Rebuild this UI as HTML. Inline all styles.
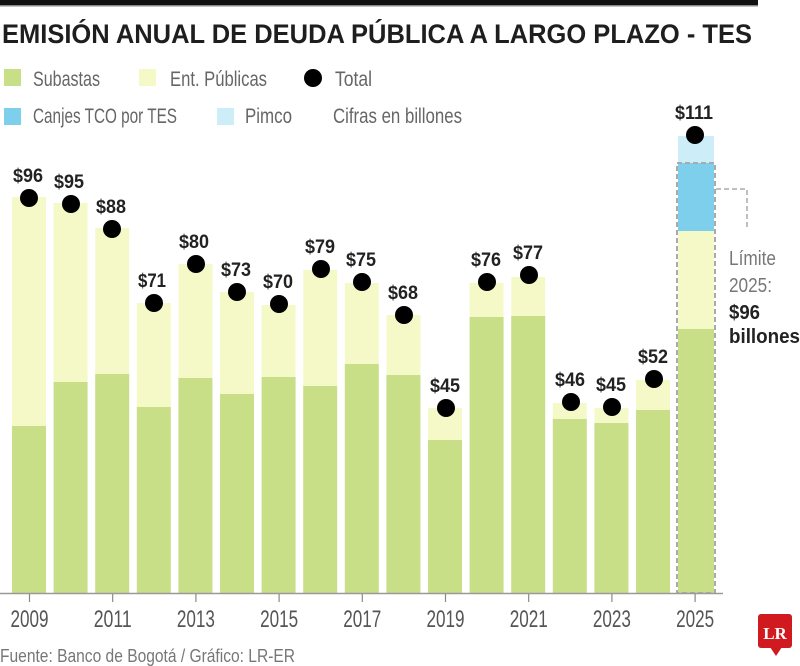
<!DOCTYPE html>
<html><head><meta charset="utf-8"><style>
html,body{margin:0;padding:0;background:#fff;width:800px;height:666px;overflow:hidden}
svg{display:block}
text{font-family:"Liberation Sans Narrow","Liberation Sans",sans-serif}
</style></head><body>
<svg width="800" height="666" viewBox="0 0 800 666" xmlns="http://www.w3.org/2000/svg">
<rect x="0" y="0" width="758" height="5" fill="#111"/>
<rect x="0" y="5" width="758" height="1.5" fill="#888"/>
<text x="2" y="43" font-size="27" font-weight="bold" fill="#1e1e1e" textLength="750" lengthAdjust="spacingAndGlyphs">EMISIÓN ANUAL DE DEUDA PÚBLICA A LARGO PLAZO - TES</text>

<!-- legend -->
<rect x="4" y="69" width="17" height="17" fill="#c9df87"/>
<text x="33" y="86" font-size="21" fill="#666" textLength="67" lengthAdjust="spacingAndGlyphs">Subastas</text>
<rect x="139" y="69" width="17" height="17" fill="#f5f9c8"/>
<text x="170" y="86" font-size="21" fill="#666" textLength="97" lengthAdjust="spacingAndGlyphs">Ent. Públicas</text>
<circle cx="313" cy="78" r="9" fill="#000"/>
<text x="335" y="86" font-size="21" fill="#666" textLength="37" lengthAdjust="spacingAndGlyphs">Total</text>
<rect x="4" y="108" width="17" height="17" fill="#7dcfec"/>
<text x="33" y="123" font-size="21" fill="#666" textLength="144" lengthAdjust="spacingAndGlyphs">Canjes TCO por TES</text>
<rect x="217" y="108" width="17" height="17" fill="#cdeef9"/>
<text x="245" y="123" font-size="21" fill="#666" textLength="47" lengthAdjust="spacingAndGlyphs">Pimco</text>
<text x="333" y="123" font-size="21" fill="#666" textLength="129" lengthAdjust="spacingAndGlyphs">Cifras en billones</text>

<!-- bars -->
<g>
<rect x="12" y="197" width="34" height="229" fill="#f5f9c8"/><rect x="12" y="426" width="34" height="167" fill="#c9df87"/>
<rect x="53.6" y="203" width="34" height="179" fill="#f5f9c8"/><rect x="53.6" y="382" width="34" height="211" fill="#c9df87"/>
<rect x="95.2" y="228" width="34" height="146" fill="#f5f9c8"/><rect x="95.2" y="374" width="34" height="219" fill="#c9df87"/>
<rect x="136.8" y="303" width="34" height="104" fill="#f5f9c8"/><rect x="136.8" y="407" width="34" height="186" fill="#c9df87"/>
<rect x="178.4" y="264" width="34" height="114" fill="#f5f9c8"/><rect x="178.4" y="378" width="34" height="215" fill="#c9df87"/>
<rect x="220" y="292" width="34" height="102" fill="#f5f9c8"/><rect x="220" y="394" width="34" height="199" fill="#c9df87"/>
<rect x="261.6" y="305" width="34" height="72" fill="#f5f9c8"/><rect x="261.6" y="377" width="34" height="216" fill="#c9df87"/>
<rect x="303.2" y="270" width="34" height="116" fill="#f5f9c8"/><rect x="303.2" y="386" width="34" height="207" fill="#c9df87"/>
<rect x="344.8" y="283" width="34" height="81" fill="#f5f9c8"/><rect x="344.8" y="364" width="34" height="229" fill="#c9df87"/>
<rect x="386.4" y="315" width="34" height="60" fill="#f5f9c8"/><rect x="386.4" y="375" width="34" height="218" fill="#c9df87"/>
<rect x="428" y="408" width="34" height="32" fill="#f5f9c8"/><rect x="428" y="440" width="34" height="153" fill="#c9df87"/>
<rect x="469.6" y="283" width="34" height="34" fill="#f5f9c8"/><rect x="469.6" y="317" width="34" height="276" fill="#c9df87"/>
<rect x="511.2" y="277" width="34" height="39" fill="#f5f9c8"/><rect x="511.2" y="316" width="34" height="277" fill="#c9df87"/>
<rect x="552.8" y="403" width="34" height="16" fill="#f5f9c8"/><rect x="552.8" y="419" width="34" height="174" fill="#c9df87"/>
<rect x="594.4" y="408" width="34" height="15" fill="#f5f9c8"/><rect x="594.4" y="423" width="34" height="170" fill="#c9df87"/>
<rect x="636" y="380" width="34" height="30" fill="#f5f9c8"/><rect x="636" y="410" width="34" height="183" fill="#c9df87"/>
<!-- 2025 -->
<rect x="678" y="136" width="36" height="27" fill="#cdeef9"/>
<rect x="678" y="163" width="36" height="68" fill="#7dcfec"/>
<rect x="678" y="231" width="36" height="98" fill="#f5f9c8"/>
<rect x="678" y="329" width="36" height="264" fill="#c9df87"/>
<rect x="677" y="163" width="38" height="430" fill="none" stroke="#aaa" stroke-width="2" stroke-dasharray="5,3"/>
<polyline points="716,189 747,189 747,228" fill="none" stroke="#aaa" stroke-width="1.5" stroke-dasharray="5,3"/>
</g>

<!-- axis -->
<line x1="0" y1="593.5" x2="723" y2="593.5" stroke="#999" stroke-width="1.5"/>
<g stroke="#888" stroke-width="1.2">
<line x1="29.5" y1="594" x2="29.5" y2="602"/><line x1="112.7" y1="594" x2="112.7" y2="602"/>
<line x1="195.9" y1="594" x2="195.9" y2="602"/><line x1="279.1" y1="594" x2="279.1" y2="602"/>
<line x1="362.3" y1="594" x2="362.3" y2="602"/><line x1="445.5" y1="594" x2="445.5" y2="602"/>
<line x1="528.7" y1="594" x2="528.7" y2="602"/><line x1="611.9" y1="594" x2="611.9" y2="602"/>
<line x1="695.1" y1="594" x2="695.1" y2="602"/>
</g>
<g font-size="24" fill="#555" text-anchor="middle">
<text x="29.5" y="627" textLength="38" lengthAdjust="spacingAndGlyphs">2009</text>
<text x="112.7" y="627" textLength="38" lengthAdjust="spacingAndGlyphs">2011</text>
<text x="195.9" y="627" textLength="38" lengthAdjust="spacingAndGlyphs">2013</text>
<text x="279.1" y="627" textLength="38" lengthAdjust="spacingAndGlyphs">2015</text>
<text x="362.3" y="627" textLength="38" lengthAdjust="spacingAndGlyphs">2017</text>
<text x="445.5" y="627" textLength="38" lengthAdjust="spacingAndGlyphs">2019</text>
<text x="528.7" y="627" textLength="38" lengthAdjust="spacingAndGlyphs">2021</text>
<text x="611.9" y="627" textLength="38" lengthAdjust="spacingAndGlyphs">2023</text>
<text x="695.1" y="627" textLength="38" lengthAdjust="spacingAndGlyphs">2025</text>
</g>

<!-- dots -->
<g fill="#000">
<circle cx="29" cy="198" r="9"/><circle cx="71" cy="204" r="9"/><circle cx="112" cy="229" r="9"/>
<circle cx="154" cy="303" r="9"/><circle cx="196" cy="264" r="9"/><circle cx="237" cy="292" r="9"/>
<circle cx="279" cy="304" r="9"/><circle cx="321" cy="269" r="9"/><circle cx="362" cy="282" r="9"/>
<circle cx="404" cy="315" r="9"/><circle cx="446" cy="408" r="9"/><circle cx="487" cy="282" r="9"/>
<circle cx="529" cy="275" r="9"/><circle cx="571" cy="402" r="9"/><circle cx="612" cy="407" r="9"/>
<circle cx="654" cy="379" r="9"/><circle cx="695" cy="135" r="9"/>
</g>
<!-- value labels -->
<g font-size="19" font-weight="bold" fill="#222" text-anchor="middle">
<text x="28" y="182" textLength="30" lengthAdjust="spacingAndGlyphs">$96</text>
<text x="69" y="188" textLength="30" lengthAdjust="spacingAndGlyphs">$95</text>
<text x="111" y="213" textLength="30" lengthAdjust="spacingAndGlyphs">$88</text>
<text x="152" y="287" textLength="28" lengthAdjust="spacingAndGlyphs">$71</text>
<text x="194" y="248" textLength="30" lengthAdjust="spacingAndGlyphs">$80</text>
<text x="236" y="276" textLength="30" lengthAdjust="spacingAndGlyphs">$73</text>
<text x="278" y="288" textLength="30" lengthAdjust="spacingAndGlyphs">$70</text>
<text x="320" y="253" textLength="30" lengthAdjust="spacingAndGlyphs">$79</text>
<text x="361" y="266" textLength="30" lengthAdjust="spacingAndGlyphs">$75</text>
<text x="403" y="299" textLength="30" lengthAdjust="spacingAndGlyphs">$68</text>
<text x="445" y="392" textLength="30" lengthAdjust="spacingAndGlyphs">$45</text>
<text x="486" y="266" textLength="30" lengthAdjust="spacingAndGlyphs">$76</text>
<text x="528" y="259" textLength="30" lengthAdjust="spacingAndGlyphs">$77</text>
<text x="570" y="386" textLength="30" lengthAdjust="spacingAndGlyphs">$46</text>
<text x="611" y="391" textLength="30" lengthAdjust="spacingAndGlyphs">$45</text>
<text x="653" y="363" textLength="30" lengthAdjust="spacingAndGlyphs">$52</text>
<text x="694" y="119" textLength="38" lengthAdjust="spacingAndGlyphs">$111</text>
</g>

<!-- limit note -->
<text x="729" y="265" font-size="20" fill="#777" textLength="47" lengthAdjust="spacingAndGlyphs">Límite</text>
<text x="729" y="292" font-size="20" fill="#777" textLength="43" lengthAdjust="spacingAndGlyphs">2025:</text>
<text x="729" y="319" font-size="20" font-weight="bold" fill="#222" textLength="31" lengthAdjust="spacingAndGlyphs">$96</text>
<text x="729" y="343" font-size="20" font-weight="bold" fill="#222" textLength="71" lengthAdjust="spacingAndGlyphs">billones</text>

<!-- footer -->
<text x="0" y="662" font-size="18" fill="#777" textLength="295" lengthAdjust="spacingAndGlyphs">Fuente: Banco de Bogotá / Gráfico: LR-ER</text>

<!-- logo -->
<rect x="758" y="614" width="34" height="34" rx="3" fill="#d01a20"/>
<polygon points="770,647 782,647 776,656" fill="#d01a20"/>
<text x="775" y="639" style="font-family:'Liberation Serif',serif" font-size="17" font-weight="bold" fill="#fff" text-anchor="middle">LR</text>
</svg>
</body></html>
